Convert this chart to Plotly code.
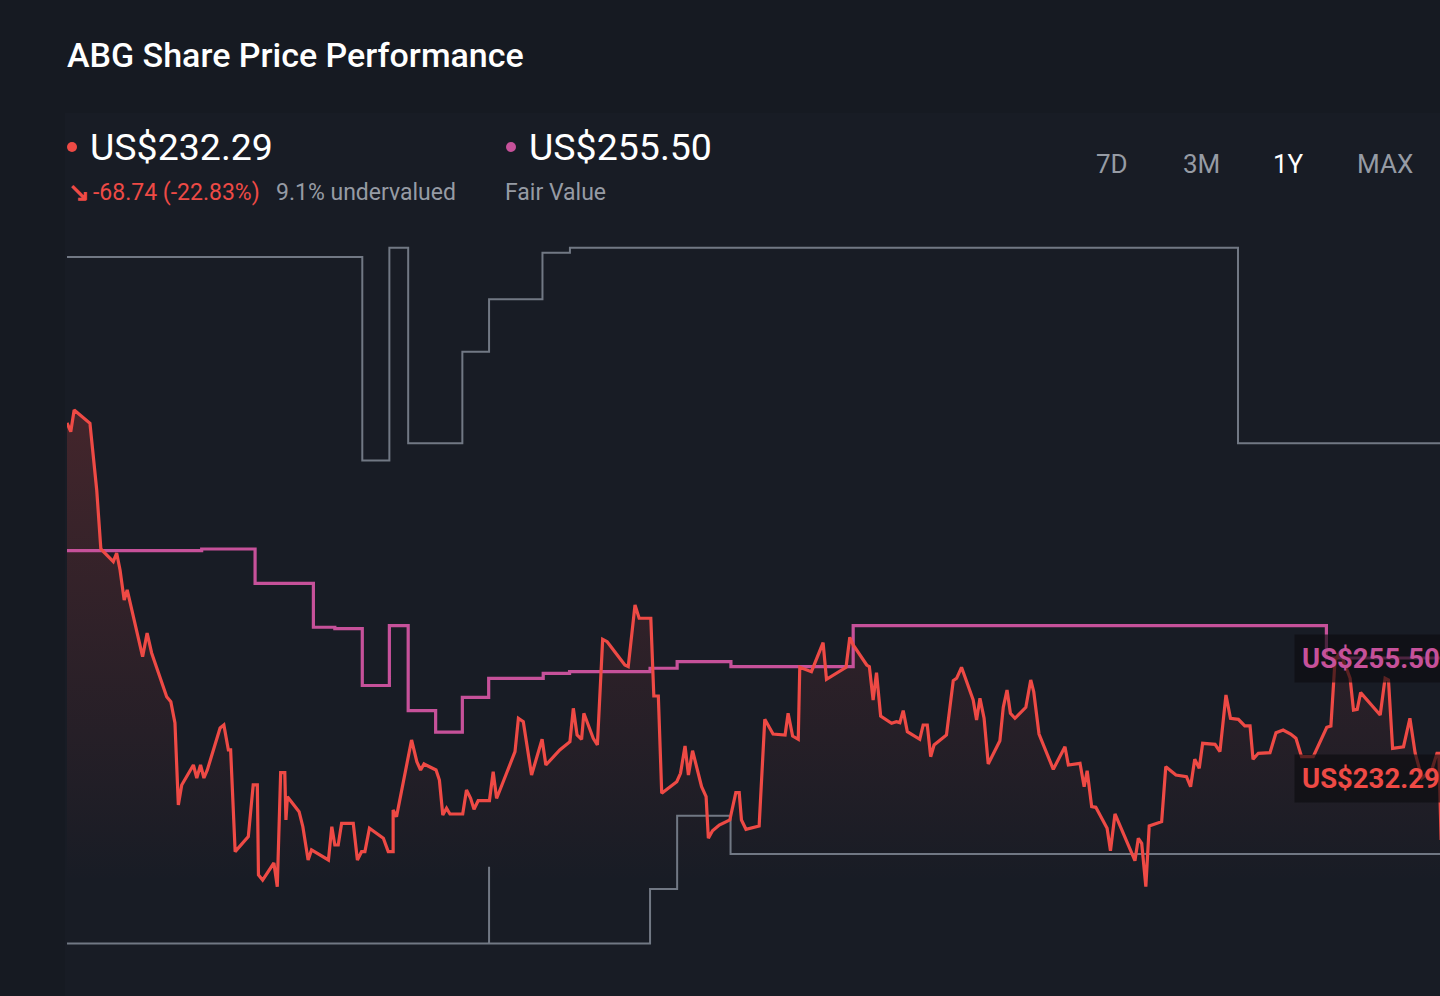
import pandas as pd
import plotly.graph_objects as go

# ---- data ----
start_date = pd.Timestamp("2024-06-17")

# share price vertices: day offset from start, price in US$
price_days = [
    0, 1.0, 1.9, 6.1, 7.9, 9.0, 12.3, 13.2, 14.1, 15.2,
    16.0, 20.1, 21.3, 22.5, 26.5, 27.6, 28.7, 29.6, 30.5, 33.6,
    34.5, 35.5, 36.4, 37.3, 40.7, 41.7, 42.9, 43.5, 44.7, 48.2,
    49.5, 50.6, 50.9, 52.0, 55.0, 55.9, 56.8, 57.9, 58.2, 58.6,
    61.7, 62.7, 64.1, 65.0, 69.5, 70.4, 71.2, 72.1, 73.0, 76.1,
    77.2, 78.3, 79.2, 80.4, 84.1, 85.4, 86.7, 86.7, 87.6, 91.6,
    93.0, 94.0, 94.9, 98.1, 99.0, 99.9, 100.9, 101.8, 105.2, 106.2,
    107.3, 108.2, 109.3, 112.3, 113.3, 114.2, 115.1, 119.1, 120.0, 121.3,
    123.5, 126.3, 127.3, 131.0, 133.7, 134.6, 135.6, 136.8, 137.4, 139.9,
    141.0, 142.4, 143.6, 148.3, 149.2, 151.0, 152.1, 155.2, 156.0, 157.2,
    158.1, 162.1, 163.1, 164.3, 165.2, 166.3, 168.7, 169.9, 170.5, 171.6,
    173.4, 176.2, 177.8, 178.7, 179.3, 180.5, 184.0, 185.5, 187.7, 190.9,
    191.7, 192.9, 194.4, 194.8, 197.9, 201.0, 201.9, 207.1, 208.1, 209.0,
    212.6, 213.3, 214.3, 215.2, 216.3, 219.2, 220.5, 221.4, 222.3, 223.4,
    226.7, 227.6, 228.7, 229.6, 230.5, 233.8, 235.6, 236.5, 237.8, 240.9,
    241.8, 242.7, 243.8, 244.9, 248.0, 248.9, 249.9, 250.8, 252.0, 254.9,
    256.2, 257.0, 258.4, 262.2, 265.3, 266.2, 269.3, 270.4, 271.2, 272.4,
    273.5, 276.5, 277.4, 278.6, 283.9, 284.8, 285.7, 286.8, 287.7, 291.0,
    292.1, 294.8, 297.6, 298.7, 299.8, 301.0, 301.9, 305.2, 306.5, 308.1,
    309.3, 311.4, 313.1, 314.5, 315.3, 316.7, 319.8, 321.4, 323.3, 325.3,
    326.7, 328.2, 331.3, 334.9, 336.0, 337.1, 338.5, 340.1, 341.1, 342.0,
    343.0, 343.9, 349.1, 350.4, 351.3, 352.4, 355.3, 357.0, 358.4, 360.2,
    362.8, 364.2, 364.7, 365.3,
]
price = [
    300.95, 299.26, 303.46, 300.89, 287.99, 276.58, 274.12, 275.81, 272.52, 266.72,
    268.65, 255.75, 260.33, 256.47, 248.01, 247.05, 242.93, 227.07, 230.94, 234.80,
    232.29, 234.80, 232.29, 233.84, 241.96, 242.54, 237.71, 237.71, 218.04, 220.94,
    230.94, 230.94, 213.53, 212.56, 215.85, 211.27, 233.32, 233.32, 224.17, 228.67,
    225.77, 222.87, 216.43, 218.37, 216.43, 222.87, 219.33, 219.33, 223.53, 223.53,
    216.43, 218.04, 218.04, 222.56, 220.63, 218.04, 218.04, 226.10, 224.81, 239.64,
    235.44, 233.84, 235.00, 233.84, 231.90, 225.13, 226.43, 225.33, 225.33, 229.97,
    228.36, 226.24, 227.90, 227.90, 233.51, 228.36, 229.97, 237.38, 243.84, 243.18,
    232.87, 239.77, 234.80, 237.71, 239.31, 245.77, 240.61, 239.77, 244.80, 239.97,
    238.67, 259.11, 258.65, 254.14, 253.82, 265.75, 263.18, 263.18, 248.15, 248.15,
    229.33, 231.57, 233.20, 238.48, 232.87, 237.57, 230.61, 228.67, 220.63, 222.10,
    223.20, 224.17, 229.45, 229.45, 224.17, 222.37, 223.01, 243.64, 240.80, 240.61,
    244.80, 240.41, 239.77, 253.70, 252.85, 258.46, 251.38, 253.70, 259.50, 258.01,
    254.14, 253.82, 247.38, 252.66, 244.28, 242.87, 243.18, 242.99, 245.31, 241.24,
    239.77, 242.54, 242.54, 236.41, 238.67, 240.61, 251.11, 251.57, 253.70, 247.38,
    243.51, 247.70, 243.84, 235.00, 239.50, 245.96, 249.31, 244.80, 243.84, 245.96,
    251.24, 248.98, 240.80, 233.97, 238.34, 234.80, 235.13, 230.61, 233.70, 226.74,
    226.62, 222.56, 218.23, 225.33, 216.30, 220.63, 219.66, 211.27, 223.01, 223.84,
    234.48, 232.87, 232.54, 230.61, 235.91, 234.17, 239.00, 238.81, 237.38, 248.34,
    243.84, 243.64, 242.35, 242.35, 235.91, 237.07, 237.18, 241.05, 241.57, 240.80,
    239.97, 236.41, 236.41, 242.10, 242.35, 255.11, 256.66, 253.56, 251.57, 245.44,
    245.58, 248.79, 244.47, 251.57, 251.24, 238.03, 238.34, 243.84, 237.07, 232.29,
    233.84, 237.07, 237.07, 220.30,
]

# fair value history (step changes)
fv_days = [0, 35.8, 50.0, 65.5, 71.2, 78.5, 85.7, 90.7, 98.0, 105.1,
           112.1, 126.6, 133.6, 155.0, 162.2, 176.5, 209.0, 334.8, 366]
fair_value = [276.25, 276.58, 269.94, 261.44, 261.17, 250.18, 261.74, 245.31, 241.15, 247.90,
              251.57, 252.54, 252.85, 253.51, 254.78, 253.82, 261.74, 255.50, 255.50]

# analyst price target range (step changes)
high_days = [0, 78.5, 85.7, 90.7, 105.1, 112.2, 126.4, 133.7, 311.3, 366]
high_target = [333.05, 293.69, 334.85, 297.02, 314.74, 324.87, 333.88, 334.85, 297.02, 297.02]
low_days = [0, 112.2, 112.2, 155.0, 162.2, 176.4, 366]
low_target = [200.28, 215.14, 200.28, 210.82, 225.00, 217.59, 217.59]

last_price = "US$232.29"
fair_value_label = "US$255.50"
change_text = "-68.74 (-22.83%)"
valuation_text = "9.1% undervalued"
range_buttons = ["7D", "3M", "1Y", "MAX"]
active_button = "1Y"


def to_dates(days):
    return start_date + pd.to_timedelta(days, unit="D")


# ---- style ----
BG = "#161a22"
CARD = "#181c25"
RED = "#ee4a45"
PINK = "#c6519a"
GREY = "#717884"
MUTED = "#969ba4"
FONT = "Roboto"

W, H = 1440, 996
ML, MR, MT, MB = 67, 0, 230, 36
PW, PH = W - ML - MR, H - MT - MB


def px(x):
    return (x - ML) / PW


def py(y):
    return (H - MB - y) / PH


fig = go.Figure()

# price area fill
fig.add_trace(go.Scatter(
    x=to_dates(price_days), y=price, mode="lines", line=dict(width=0),
    fill="tozeroy",
    fillgradient=dict(type="vertical", start=212, stop=302,
                      colorscale=[[0, "rgba(238,74,69,0.0)"], [1, "rgba(238,74,69,0.2)"]]),
    hoverinfo="skip", showlegend=False,
))

fig.add_trace(go.Scatter(x=to_dates(high_days), y=high_target, mode="lines",
                         line=dict(color=GREY, width=2, shape="hv"), showlegend=False))
fig.add_trace(go.Scatter(x=to_dates(low_days), y=low_target, mode="lines",
                         line=dict(color=GREY, width=2, shape="hv"), showlegend=False))
fig.add_trace(go.Scatter(x=to_dates(fv_days), y=fair_value, mode="lines",
                         line=dict(color=PINK, width=3.2, shape="hv"), showlegend=False))
fig.add_trace(go.Scatter(x=to_dates(price_days), y=price, mode="lines",
                         line=dict(color=RED, width=3.2), showlegend=False))

ann = []


def text(x, y, s, size, color, anchor="left", weight="normal", **kw):
    ann.append(dict(x=px(x), y=py(y), xref="paper", yref="paper", text=s, showarrow=False,
                    xanchor=anchor, yanchor="middle",
                    font=dict(family=FONT, size=size, color=color, weight=weight), **kw))


text(65, 55, "ABG Share Price Performance", 34, "#ffffff", weight=500)
text(88, 147, last_price, 37.5, "#ffffff")
text(66, 192, "↘", 26, RED, weight="bold")
text(91, 192, change_text, 23, RED)
text(274, 192, valuation_text, 23, MUTED)
text(527, 147, fair_value_label, 37.5, "#ffffff")
text(503, 192, "Fair Value", 23, MUTED)

for label, cx in zip(range_buttons, [1112, 1201, 1288, 1385]):
    text(cx, 164, label, 26, "#ffffff" if label == active_button else MUTED, anchor="center")

text(1294, 658, fair_value_label, 27.5, PINK, weight="bold",
     bgcolor="rgba(12,12,16,0.65)", borderpad=7)
text(1294, 778, last_price, 27.5, RED, weight="bold",
     bgcolor="rgba(12,12,16,0.65)", borderpad=7)

shapes = [
    dict(type="rect", xref="paper", yref="paper", x0=px(65), x1=1.02, y0=py(996), y1=py(113),
         fillcolor=CARD, line=dict(width=0), layer="below"),
]
for cx, cy, col in [(72, 147, RED), (511, 147, PINK)]:
    shapes.append(dict(type="circle", xref="paper", yref="paper", xsizemode="pixel",
                       ysizemode="pixel", xanchor=px(cx), yanchor=py(cy),
                       x0=-5, x1=5, y0=-5, y1=5, fillcolor=col, line=dict(width=0)))

fig.update_layout(
    width=W, height=H,
    margin=dict(l=ML, r=MR, t=MT, b=MB),
    paper_bgcolor=BG, plot_bgcolor="rgba(0,0,0,0)",
    annotations=ann, shapes=shapes,
    xaxis=dict(visible=False, range=[to_dates([0])[0], to_dates([365])[0]]),
    yaxis=dict(visible=False, range=[197.09, 338.27]),
    hovermode=False,
)

fig.write_html("out.html", config={"displayModeBar": False},
               post_script="document.body.style.margin='0';"
                           "document.body.style.background='" + BG + "';")
